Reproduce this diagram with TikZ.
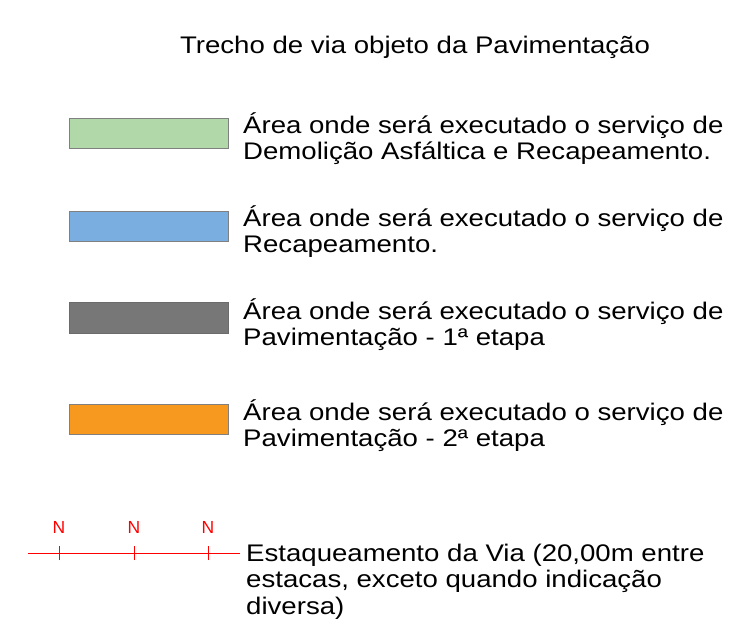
\documentclass[tikz,border=0pt]{standalone}
\usepackage{fontspec}
\setmainfont{Liberation Sans}
\newfontfamily\legfont[FakeStretch=1.15]{Liberation Sans}
\definecolor{cgreen}{HTML}{B0D8A8}
\definecolor{cblue}{HTML}{7AAEE0}
\definecolor{cgray}{HTML}{777777}
\definecolor{corange}{HTML}{F7981F}
\definecolor{cborder}{HTML}{808080}
\definecolor{cred}{HTML}{FF0000}
\begin{document}
\begin{tikzpicture}[x=1pt,y=-1pt,
  swatch/.style={draw=cborder,line width=1pt},
  legtext/.style={anchor=base west,inner sep=0pt,align=left,
    font=\legfont\fontsize{24}{26.5}\selectfont},
  nlabel/.style={text=cred,inner sep=0pt,font=\fontsize{17.5}{19}\selectfont},
  redline/.style={draw=cred,line width=0.9pt}]
\useasboundingbox (0,0) rectangle (731,629);
\node[legtext,anchor=base] (title) at (415,53) {Trecho de via objeto da Pavimentação};

\draw[swatch,fill=cgreen] (69,118) rectangle (228,148);
\node[legtext] (t1) at (243,159.5) {Área onde será executado o serviço de\\Demolição Asfáltica e Recapeamento.};

\draw[swatch,fill=cblue] (69,211) rectangle (228,241);
\node[legtext] (t2) at (243,252.5) {Área onde será executado o serviço de\\Recapeamento.};

\draw[swatch,fill=cgray,draw=cgray!90!black] (69,302) rectangle (228,333);
\node[legtext] (t3) at (243,345.5) {Área onde será executado o serviço de\\Pavimentação - 1ª etapa};

\draw[swatch,fill=corange] (69,404) rectangle (228,434);
\node[legtext] (t4) at (243,446.5) {Área onde será executado o serviço de\\Pavimentação - 2ª etapa};

\coordinate (ls) at (28,553);
\coordinate (le) at (240,553);
\draw[redline] (ls) -- (le);
\foreach \x/\n in {59/a,134/b,208/c}{
  \coordinate (tk\n) at (\x,553);
  \draw[redline] ([yshift=-7pt]tk\n) -- ([yshift=7pt]tk\n);
  \node[nlabel] (N\n) at (\x,527) {N};
}
\node[legtext] (t5) at (246,614) {Estaqueamento da Via (20,00m entre\\estacas, exceto quando indicação\\diversa)};
\end{tikzpicture}
\end{document}
